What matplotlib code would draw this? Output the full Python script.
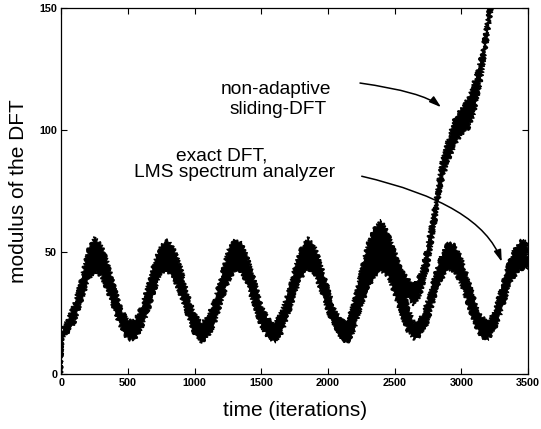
import matplotlib
matplotlib.use('Agg')
import matplotlib.pyplot as plt

plt.rcParams['font.family'] = ['Liberation Sans', 'DejaVu Sans']

# exact DFT / LMS spectrum analyzer: envelope of the fast ripple (upper/lower)
exact_iter = [0, 10] + list(range(50, 3501, 50))
exact_upper = [17, 19, 23, 30, 40, 51, 56, 53, 46, 36, 27, 22,
               22, 28, 37, 47, 53, 55, 51, 44, 33, 25, 21,
               24, 31, 41, 51, 55, 54, 48, 39, 29, 23, 21,
               26, 34, 44, 52, 56, 53, 45, 36, 27, 22,
               22, 29, 40, 49, 54, 56, 54, 47, 38, 28, 21,
               24, 31, 41, 49, 54, 53, 48, 40, 31, 24, 21,
               27, 36, 45, 52, 55, 54]
exact_lower = [0, 15, 17, 21, 29, 38, 42, 40, 33, 25, 18, 14,
               14, 18, 25, 34, 41, 42, 38, 31, 23, 16, 13,
               15, 20, 29, 37, 42, 42, 35, 27, 19, 15, 13,
               16, 23, 32, 39, 43, 41, 33, 25, 18, 14,
               13, 18, 27, 35, 40, 42, 40, 32, 24, 17, 14,
               16, 21, 31, 38, 43, 42, 36, 28, 20, 15, 14,
               18, 25, 34, 40, 43, 43]

# non-adaptive sliding-DFT once it drifts away
drift_iter = [2150, 2200, 2250, 2300, 2350, 2400, 2450, 2500, 2550, 2600, 2650,
              2700, 2750, 2800, 2850, 2900, 2950, 3000, 3050, 3100, 3150, 3200, 3230]
drift_upper = [23, 32, 44, 54, 60, 63, 58, 51, 43, 39, 37,
               42, 55, 70, 87, 97, 105, 109, 113, 121, 131, 148, 160]
drift_lower = [14, 20, 29, 36, 41, 45, 42, 37, 33, 31, 28,
               33, 44, 60, 77, 87, 93, 98, 100, 107, 120, 138, 150]

x_ticks = [0, 500, 1000, 1500, 2000, 2500, 3000, 3500]
y_ticks = [0, 50, 100, 150]


def band(ax, it, lo, hi):
    # closed outline: along the top, back along the bottom
    xs = list(it) + list(it)[::-1]
    ys = list(hi) + list(lo)[::-1]
    p, = ax.fill(xs, ys, color='black', lw=0.8)
    p.set_sketch_params(1.5, 3, 6)
    return p


fig = plt.figure(figsize=(5.41, 4.29), dpi=100)
ax = fig.add_axes([0.1133, 0.128, 0.8627, 0.853])

band(ax, exact_iter, exact_lower, exact_upper)
band(ax, drift_iter, drift_lower, drift_upper)

ax.set_xlim(0, 3500)
ax.set_ylim(0, 150)
ax.set_xticks(x_ticks)
ax.set_yticks(y_ticks)
ax.tick_params(direction='in', top=True, right=True, length=4, width=0.8,
               labelsize=7.8, pad=3)
for lab in ax.get_xticklabels() + ax.get_yticklabels():
    lab.set_fontweight('bold')
for s in ax.spines.values():
    s.set_linewidth(0.9)

ax.set_xlabel('time (iterations)', fontsize=15, labelpad=9)
ax.set_ylabel('modulus of the DFT', fontsize=15, labelpad=8)

txt = dict(fontsize=13.8, ha='center', va='baseline')
ax.text(1610, 115.0, 'non-adaptive', **txt)
ax.text(1625, 106.8, 'sliding-DFT', **txt)
ax.text(1203, 87.7, 'exact DFT,', **txt)
ax.text(1299, 80.6, 'LMS spectrum analyzer', **txt)

arrow = dict(arrowstyle='-|>,head_length=0.7,head_width=0.22', color='black',
             lw=1.1, shrinkA=0, shrinkB=0)
ax.annotate('', xy=(2848, 109.4), xytext=(2240, 119.3),
            arrowprops=dict(connectionstyle='angle3,angleA=-8,angleB=-40', **arrow))
ax.annotate('', xy=(3303, 46), xytext=(2253, 81.1),
            arrowprops=dict(connectionstyle='angle3,angleA=-13,angleB=110', **arrow))

fig.savefig('out.png', dpi=100)
